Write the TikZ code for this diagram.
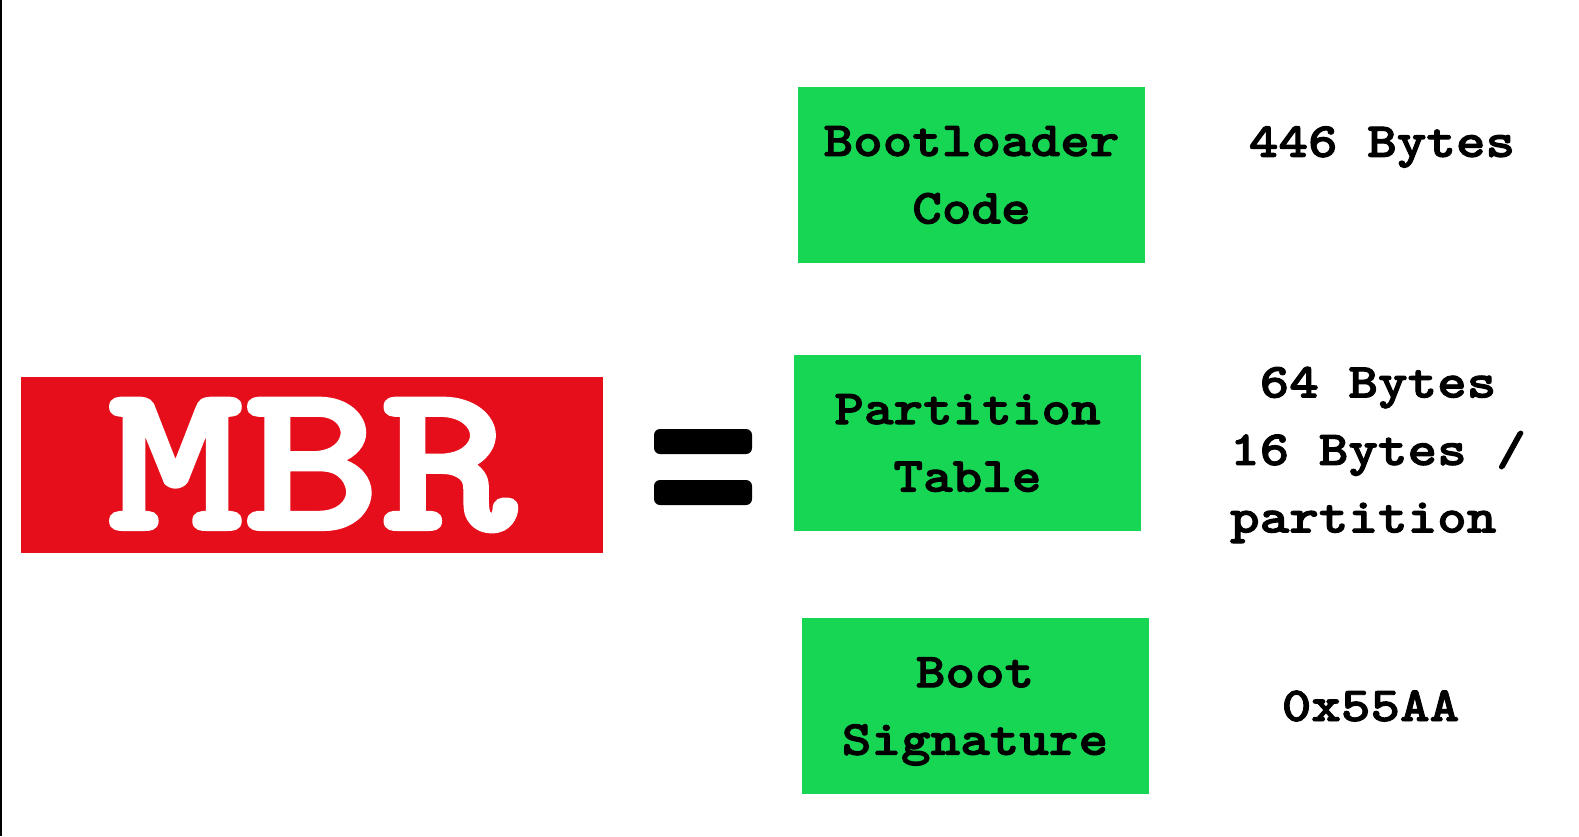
\documentclass[tikz,border=0pt]{standalone}
\usepackage{fontspec}
\newfontfamily\codefont{lmmonolt10-bold}[Extension=.otf, FakeStretch=1.15, FakeBold=2]
\newfontfamily\mbrfont{lmmonolt10-bold}[Extension=.otf, FakeStretch=1.22, FakeBold=2]
\usetikzlibrary{positioning}
\definecolor{mbrred}{RGB}{229,14,26}
\definecolor{partgreen}{RGB}{22,214,84}
\tikzstyle{mbrbox} = [fill=mbrred, text=white, minimum width=291pt, minimum height=88pt, inner sep=0pt, font=\mbrfont\fontsize{106.5}{106.5}\selectfont]
\tikzstyle{part} = [fill=partgreen, minimum width=173.5pt, minimum height=88pt, align=center, inner sep=0pt, font=\codefont\fontsize{24.5}{33.75}\selectfont]
\tikzstyle{size} = [align=center, inner sep=0pt, font=\codefont\fontsize{24.5}{33.75}\selectfont]
\tikzstyle{eqbar} = [fill=black, rounded corners=3pt]

\begin{document}
\begin{tikzpicture}[x=0.5pt,y=-0.5pt]
\useasboundingbox (0,0) rectangle (1579,836);
\fill[black] (0,0) rectangle (1.5,836);

\node [mbrbox] (mbr) at (312,465) {MBR};
\fill [eqbar] (654,429) rectangle (752,454);
\fill [eqbar] (654,480) rectangle (752,505);

\node [part] (boot) at (971.5,175) {Bootloader\\Code};
\node [part] (table) at (967.5,443) {Partition\\Table};
\node [part] (sig) at (975,706) {Boot\\\smash{Signature}};

\node [size] (bootsize) at (1382,147) {446 Bytes};
\node [size] (tablesize) at (1378,455) {64 Bytes\\16 Bytes /\\partition\phantom{x}};
\node [size] (sigsize) at (1370.5,706) {0x55AA};
\end{tikzpicture}
\end{document}
